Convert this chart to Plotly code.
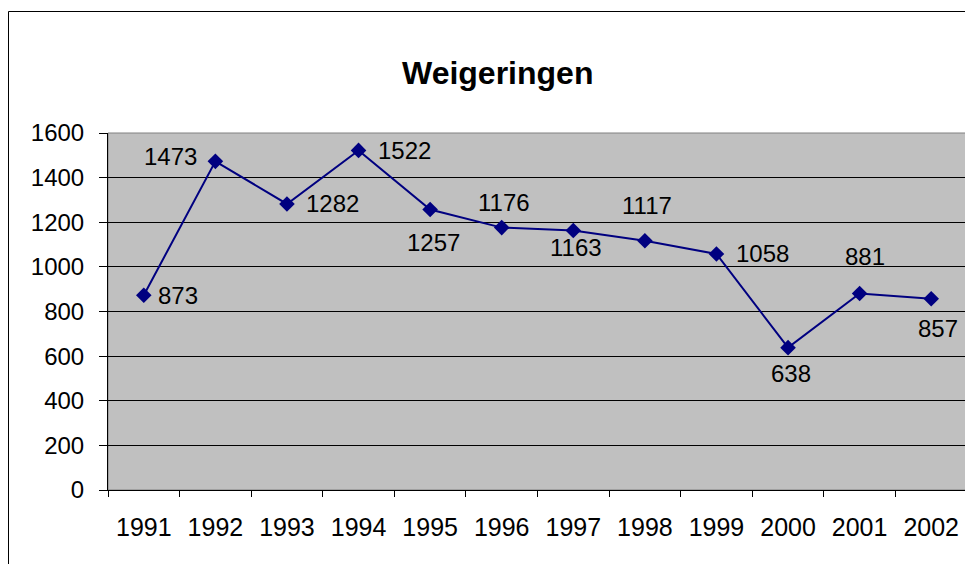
import plotly.graph_objects as go

years = ["1991", "1992", "1993", "1994", "1995", "1996", "1997", "1998", "1999", "2000", "2001", "2002"]
values = [873, 1473, 1282, 1522, 1257, 1176, 1163, 1117, 1058, 638, 881, 857]
# label offsets (pixels) relative to each point, as placed in the original chart
label_dx = [34, -45, 46, 46, 3, 2, 3, 2, 46, 3, 5, 7]
label_dy = [0, 5, 0, 0, -33, 25, -17, 35, 0, -26, 37, -30]
y_ticks = [0, 200, 400, 600, 800, 1000, 1200, 1400, 1600]

xpos = list(range(len(years)))
boundaries = [i - 0.5 for i in range(len(years) + 1)]

FONT = "Arial, 'Liberation Sans', sans-serif"
OFF = 8  # page body margin
W, H = 973 - OFF, 564 - OFF
L, R, T, B = 108 - OFF, 6, 133 - OFF, 74
pw, ph = W - L - R, H - T - B

def px_x(p):
    return (p - OFF - L) / pw

def px_y(p):
    return (H - B - (p - OFF)) / ph

fig = go.Figure()
fig.add_trace(go.Scatter(
    x=xpos, y=values, mode="lines+markers",
    line=dict(color="#000080", width=2),
    marker=dict(symbol="diamond", size=12, color="#000080"),
    text=years, hovertemplate="%{text}: %{y}<extra></extra>", showlegend=False,
))

annotations = []
for xi, v, dx, dy in zip(xpos, values, label_dx, label_dy):
    annotations.append(dict(
        x=xi, y=v, text=str(v), showarrow=False,
        xshift=dx, yshift=dy, font=dict(family=FONT, size=24, color="black"),
    ))
annotations.append(dict(
    x=px_x(497), y=px_y(53), xref="paper", yref="paper",
    text="<b>Weigeringen</b>", showarrow=False,
    font=dict(family=FONT, size=32, color="black"),
))

shapes = [
    # outer chart frame
    dict(type="rect", xref="paper", yref="paper",
         x0=px_x(8.5), x1=px_x(990), y0=px_y(580), y1=px_y(11.5),
         line=dict(color="black", width=1), layer="below"),
    # plot area border
    dict(type="rect", xref="paper", yref="paper", x0=0, x1=1, y0=0, y1=1,
         line=dict(color="#808080", width=1), layer="below"),
]

fig.update_layout(
    width=W, height=H,
    margin=dict(l=L, r=R, t=T, b=B, pad=0),
    paper_bgcolor="white", plot_bgcolor="#C0C0C0",
    font=dict(family=FONT, size=24, color="black"),
    annotations=annotations, shapes=shapes,
)
fig.update_xaxes(
    range=[-0.5, len(years) - 0.5], tickvals=xpos, ticktext=years, ticks="",
    showgrid=False, zeroline=False,
    showline=True, linecolor="black", linewidth=1,
    tickfont=dict(family=FONT, size=25, color="black"),
    ticklabelstandoff=15, tickangle=0,
    minor=dict(tickvals=boundaries, ticks="outside", ticklen=6,
               tickcolor="black", tickwidth=1, showgrid=False),
)
fig.update_yaxes(
    range=[0, 1600], tickvals=y_ticks, ticks="outside", ticklen=8,
    tickcolor="black", tickwidth=1, showgrid=True, gridcolor="black", gridwidth=1,
    showline=True, linecolor="black", linewidth=1, zeroline=False,
    tickfont=dict(family=FONT, size=24, color="black"),
    ticklabelstandoff=10,
)

fig.write_html("out.html")
